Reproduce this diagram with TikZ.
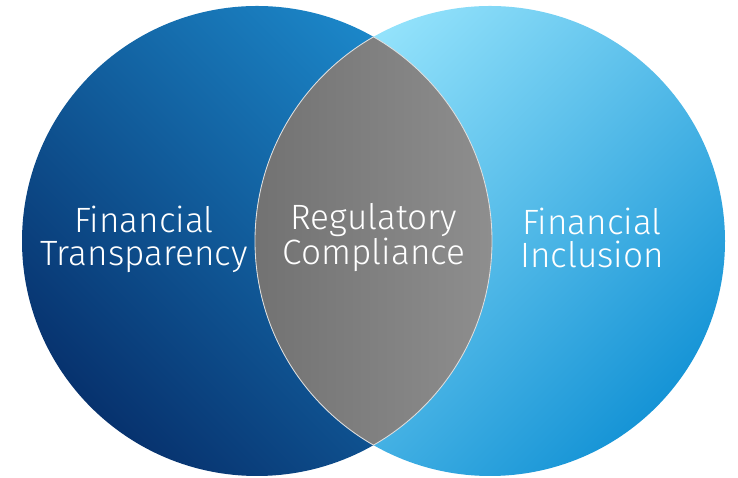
\documentclass[tikz,border=0pt]{standalone}
\usepackage{fontspec}
\setmainfont{Fira Sans Light}
\usetikzlibrary{positioning}
\definecolor{navydeep}{RGB}{7,50,110}
\definecolor{navylight}{RGB}{28,136,202}
\definecolor{skylight}{RGB}{150,228,252}
\definecolor{skydeep}{RGB}{22,148,214}
\definecolor{lensdark}{RGB}{114,114,114}
\definecolor{lenslight}{RGB}{142,142,142}

\begin{document}
\begin{tikzpicture}[
    x=0.025cm, y=0.025cm,
    label/.style={text=white, align=center, inner sep=0pt,
      font=\fontsize{25}{23.5}\selectfont},
    rim/.style={draw=white!75!gray, line width=0.6},
  ]

  \def\r{235} \def\cy{237}
  \def\xa{257} \def\xb{490}

  \useasboundingbox (0,0) rectangle (738,478);

  % --- the two circles ---
  \shade[top color=navylight, bottom color=navydeep, shading angle=-45]
    (\xa,\cy) circle (\r);
  \shade[top color=skylight, bottom color=skydeep, shading angle=45]
    (\xb,\cy) circle (\r);

  % --- overlap ---
  \begin{scope}
    \clip (\xa,\cy) circle (\r);
    \clip (\xb,\cy) circle (\r);
    \shade[left color=lensdark, right color=lenslight]
      (\xb-\r,0) rectangle (\xa+\r,478);
  \end{scope}
  \begin{scope}
    \clip (\xa,\cy) circle (\r);
    \draw[rim] (\xb,\cy) circle (\r);
  \end{scope}
  \begin{scope}
    \clip (\xb,\cy) circle (\r);
    \draw[rim] (\xa,\cy) circle (\r);
  \end{scope}

  % --- labels ---
  \node[label] (transp) at (144,239) {Financial\\Transparency};
  \node[label] (regul) at (374,240) {Regulatory\\Compliance};
  \node[label] (incl) at (592,240) {Financial\\Inclusion};

\end{tikzpicture}
\end{document}
